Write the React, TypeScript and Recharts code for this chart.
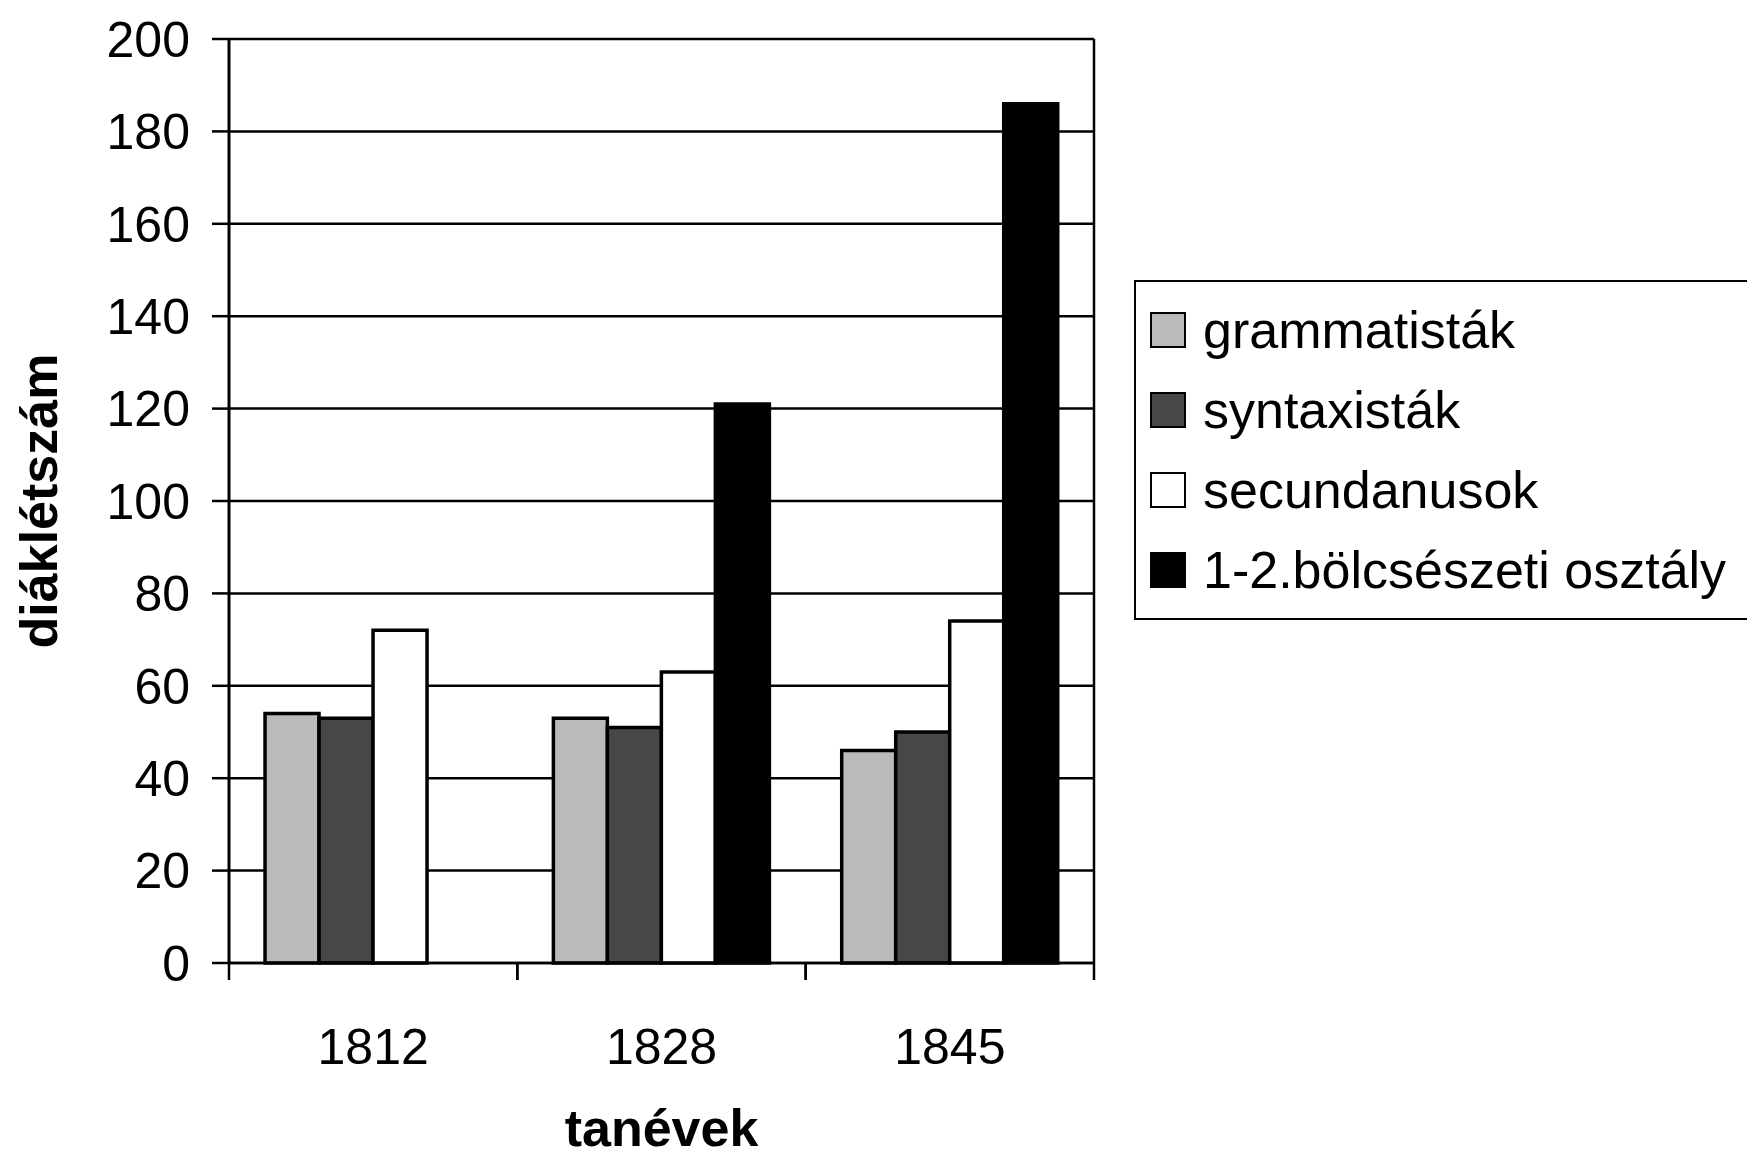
import { BarChart, Bar, XAxis, YAxis, CartesianGrid, Legend, ReferenceLine, Label } from 'recharts'

// tanévek és diáklétszámok
const years = ['1812', '1828', '1845']
const grammatistak = [54, 53, 46]
const syntaxistak = [53, 51, 50]
const secundanusok = [72, 63, 74]
const bolcseszeti: Array<number | null> = [null, 121, 186]

const yTicks = [0, 20, 40, 60, 80, 100, 120, 140, 160, 180, 200]

const series = [
  { key: 'gram', name: 'grammatisták', fill: '#bababa' },
  { key: 'synt', name: 'syntaxisták', fill: '#474747' },
  { key: 'secu', name: 'secundanusok', fill: '#ffffff' },
  { key: 'bolc', name: '1-2.bölcsészeti osztály', fill: '#000000' },
]

const data = years.map((year, i) => ({
  year,
  pos: i + 0.5,
  gram: grammatistak[i],
  synt: syntaxistak[i],
  secu: secundanusok[i],
  bolc: bolcseszeti[i],
}))

const FONT = '"Liberation Sans", Arial, sans-serif'
const TICK_MARGIN = 65
const TICK_LEN = 17

// évszám + Excel-szerű osztásjelek a kategóriák határán
function YearTick(props: any) {
  const { x, y, payload } = props
  const half = payload.offset || 0
  const axisY = y - TICK_MARGIN
  return (
    <g>
      <line x1={x - half} x2={x - half} y1={axisY} y2={axisY + TICK_LEN} stroke="#000" strokeWidth={2.5} />
      <line x1={x + half} x2={x + half} y1={axisY} y2={axisY + TICK_LEN} stroke="#000" strokeWidth={2.5} />
      <text x={x} y={y} dy="0.71em" textAnchor="middle" fontSize={50} fill="#000">
        {payload.value}
      </text>
    </g>
  )
}

function LegendBox() {
  return (
    <div style={{
      width: 620,
      boxSizing: 'border-box',
      border: '2px solid #000',
      background: '#fff',
      padding: '8px 0',
      fontFamily: FONT,
    }}>
      {series.map((s) => (
        <div key={s.key} style={{ display: 'flex', alignItems: 'center', height: 80 }}>
          <span style={{
            display: 'inline-block',
            width: 32,
            height: 32,
            marginLeft: 14,
            marginRight: 17,
            background: s.fill,
            border: '2.5px solid #000',
          }} />
          <span style={{ fontSize: 52, color: '#000', whiteSpace: 'nowrap', lineHeight: 1 }}>{s.name}</span>
        </div>
      ))}
    </div>
  )
}

export default function App() {
  return (
    <div style={{ width: 1747, height: 1154, background: '#fff' }}>
      <BarChart
        width={1747}
        height={1154}
        data={data}
        margin={{ top: 31, right: 661, bottom: 0, left: 0 }}
        barCategoryGap="12.5%"
        barGap={0}
        style={{ fontFamily: FONT }}
      >
        <CartesianGrid xAxisId="cat" vertical={false} stroke="#000" strokeWidth={2.5} />
        <XAxis
          xAxisId="b"
          type="number"
          dataKey="pos"
          domain={[0, 3]}
          height={0}
          hide
        />
        <XAxis
          xAxisId="cat"
          dataKey="year"
          height={199}
          axisLine={{ stroke: '#000', strokeWidth: 2.5 }}
          tickLine={false}
          tickSize={0}
          tickMargin={TICK_MARGIN}
          interval={0}
          tick={YearTick}
        >
          <Label
            content={({ viewBox }: any) => (
              <text
                x={viewBox.x + viewBox.width / 2}
                y={1138}
                textAnchor="middle"
                fontSize={52}
                fontWeight={700}
                fill="#000"
              >
                tanévek
              </text>
            )}
          />
        </XAxis>
        <YAxis
          width={221}
          domain={[0, 200]}
          ticks={yTicks}
          interval={0}
          tickSize={TICK_LEN}
          tickMargin={22}
          axisLine={{ stroke: '#000', strokeWidth: 3 }}
          tickLine={{ stroke: '#000', strokeWidth: 2.5 }}
          tick={{ fill: '#000', fontSize: 50 }}
        >
          <Label
            content={({ viewBox }: any) => {
              const cx = 31
              const cy = viewBox.y + viewBox.height / 2
              return (
                <text
                  x={cx}
                  y={cy}
                  transform={`rotate(-90 ${cx} ${cy})`}
                  textAnchor="middle"
                  dominantBaseline="central"
                  fontSize={52}
                  fontWeight={700}
                  fill="#000"
                >
                  diáklétszám
                </text>
              )
            }}
          />
        </YAxis>
        <ReferenceLine xAxisId="b" x={3} stroke="#000" strokeWidth={2.5} />
        {series.map((s) => (
          <Bar
            key={s.key}
            xAxisId="cat"
            dataKey={s.key}
            name={s.name}
            fill={s.fill}
            stroke="#000"
            strokeWidth={3.5}
            isAnimationActive={false}
          />
        ))}
        <Legend
          layout="vertical"
          align="center"
          verticalAlign="middle"
          content={() => <LegendBox />}
          wrapperStyle={{ left: 1126, top: 272, width: 620 }}
        />
      </BarChart>
    </div>
  )
}
